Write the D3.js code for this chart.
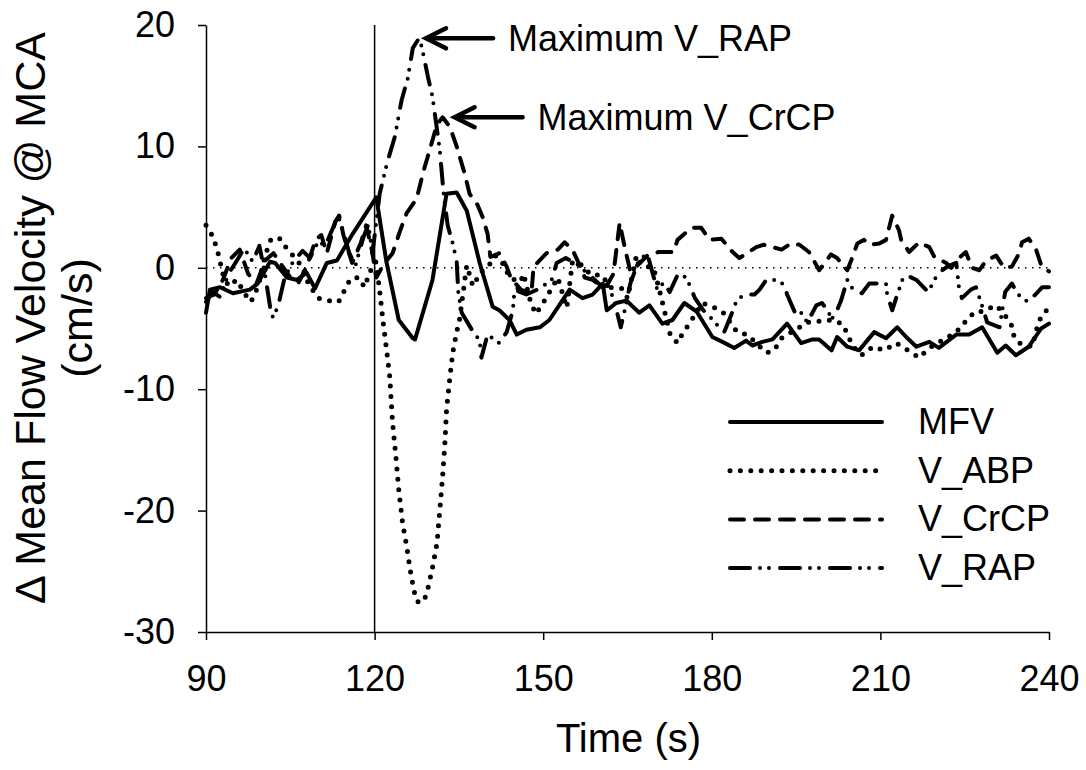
<!DOCTYPE html>
<html>
<head>
<meta charset="utf-8">
<script src="https://cdn.jsdelivr.net/npm/d3@7"></script>
<style>
  body { margin: 0; background: #fff; }
  text { font-family: "Liberation Sans", Arial, sans-serif; fill: #000; }
</style>
</head>
<body>
<div id="chart"></div>
<script>
// [time (s), delta velocity (cm/s)]
const mfv = [
  [90,-3.7],[90.7,-1.8],[92.5,-1.6],[94.8,-2.1],[97.8,-1.8],[99.2,-1.3],[101.4,0.5],[102.3,0.4],
  [104.4,-0.8],[106.2,-1.0],[107.9,-0.4],[109.4,-1.7],[111.5,0.4],[113.3,0.6],[116.1,2.8],[120.3,5.8],
  [122.1,0.5],[124.3,-4.3],[126.8,-5.8],[127.2,-5.9],[130.3,-1.0],[132.8,6.1],[134.6,6.2],[136.4,4.7],
  [138.7,0.4],[141,-3.2],[142.2,-3.5],[144,-4.3],[145.3,-5.5],[147,-5.1],[149.4,-4.9],[151.1,-4.3],
  [153.4,-2.7],[154.7,-1.8],[157,-2.5],[158.8,-2.2],[160.6,-1.3],[161.3,-3.5],[163,-2.9],[164.8,-2.7],
  [167.1,-3.7],[168.9,-3.1],[171.2,-4.6],[173,-4.3],[175.1,-2.9],[177.3,-3.6],[180.1,-5.7],[181.9,-6.1],
  [184,-6.6],[186.1,-6.0],[187.2,-6.4],[189,-6.1],[190.8,-5.9],[193.4,-4.6],[195.9,-6.2],[197.9,-5.9],
  [199.1,-5.9],[201.3,-6.8],[202.3,-5.7],[204.1,-6.5],[206.2,-6.8],[208.9,-5.3],[211,-5.8],[213,-4.9],
  [214.6,-5.7],[216.4,-6.5],[218.7,-6.1],[220.4,-6.6],[223.5,-5.5],[225.8,-5.5],[228.1,-4.9],[230.8,-7.0],
  [232.3,-6.4],[234.1,-7.2],[236.4,-6.5],[238.6,-5.0],[240,-4.6]
];

const vAbp = [
  [90,3.5],[91.2,2.6],[92,1.5],[93,-0.5],[94,-1.5],[95.5,-1.0],[97,-2.2],[98,-2.8],[99.3,-1.5],
  [100.5,1.0],[101.6,2.4],[103.2,2.4],[104.2,1.7],[105.5,1.0],[107.1,0.1],[108.3,-1.4],[110,-2.5],
  [111.7,-2.7],[113.6,-2.8],[114.7,-1.8],[115.7,-0.9],[117.2,-0.8],[118.2,-1.6],[119.2,-0.3],[120.2,0.5],
  [120.8,-1.5],[121.5,-4.4],[122.3,-7.4],[122.7,-9.0],[123.2,-12.8],[123.8,-15.6],[124.3,-18.3],[125,-21.1],
  [125.7,-22.9],[126.3,-24.8],[127,-26.6],[127.6,-27.5],[128.3,-27.6],[128.9,-27.3],[129.5,-26.4],
  [130.3,-24.7],[131.1,-22.7],[131.6,-20.0],[132.1,-17.2],[132.5,-14.5],[132.8,-11.7],[133.4,-9.0],
  [133.9,-7.0],[134.6,-5.3],[135.1,-4.3],[136.4,0.2],[137.5,-1.5],[139,-0.3],[140.2,0.1],[141.5,1.0],
  [143.3,0.1],[143.8,-0.7],[145,-1.0],[145.5,-1.7],[146.5,-0.5],[147.8,-2.9],[148.7,-3.8],[150.5,-2.5],
  [152.6,-0.8],[154.2,-3.3],[155.2,0.5],[157,0.2],[158.5,-0.6],[160.5,-0.6],[161.8,-1.6],[164,-1.7],
  [165,-2.5],[166.6,1.0],[167.5,0.2],[169.6,0],[170.5,-1.5],[172.6,-5.5],[173.9,-6.2],[174.8,-5.4],
  [176,-4.6],[178.3,-2.9],[180.1,-3.2],[181.9,-3.6],[184.5,-5.3],[186.3,-5.5],[189.7,-7.0],[191.1,-6.8],
  [192.4,-5.8],[195.6,-4.9],[197,-4.5],[201.2,-4.3],[203.2,-4.6],[204.1,-5.4],[205,-6.4],[206.6,-7.2],
  [207.7,-6.9],[208.6,-6.5],[210.7,-6.8],[212.8,-6.2],[214.2,-6.6],[216.9,-7.4],[218.7,-6.6],[223.5,-5.3],
  [225,-4.5],[226.8,-3.6],[228.1,-3.6],[230.6,-3.1],[232,-3.8],[233.3,-4.7],[233.8,-5.7],[234.7,-6.2],
  [237,-6.5],[238,-4.7],[238.7,-3.9],[240,-3.3]
];

const vCrcp = [
  [90,-2.5],[91.5,-2.2],[93,-1.0],[94.5,0.8],[96,1.5],[97.5,-0.5],[99,-1.3],[100.5,0.6],[102,1.2],
  [103.5,0.2],[105,-0.8],[106.5,-1.2],[108,0.2],[109.5,2.3],[110.5,2.7],[111.5,1.2],[113,3.8],[113.7,4.3],
  [114.5,2.6],[116,0.4],[117.5,2.0],[118.5,3.5],[119.5,1.5],[120.3,-0.8],[121.5,0.2],[123.2,1.2],
  [124.5,3.0],[125.7,4.5],[127.5,5.7],[128.6,7.8],[129.8,9.7],[131.1,11.8],[132.1,12.4],[133.4,11.6],
  [134.6,10.0],[136,7.8],[136.9,6.1],[138.3,5.2],[139.2,4.2],[140.1,2.8],[140.6,0.9],[142.2,1.2],
  [143.5,0.1],[144.2,-0.8],[146,-1.8],[147.9,-2.1],[148.3,0.1],[150.6,1.2],[152.6,1.5],[153.8,2.1],
  [155.2,1.5],[156.5,0.2],[157.4,-0.8],[158.8,-1.0],[160.6,-1.6],[161.4,-1.4],[162.5,-0.5],[163.6,3.7],
  [164.5,1.7],[165.5,-0.3],[167,0.3],[168.5,1.0],[170.5,1.3],[173.2,1.3],[173.9,2.3],[176.4,3.3],
  [178.1,3.3],[179.6,2.3],[181.7,2.4],[183.7,1.3],[184.9,0.8],[187.9,1.7],[189.3,1.9],[192.4,1.5],
  [194.1,2.0],[195.6,1.9],[197.3,1.3],[199.1,-0.2],[201.2,1.1],[202.3,0.8],[204.1,-0.2],[204.8,0.6],
  [205.9,2.0],[207.1,2.3],[208,1.9],[209.8,2.0],[211,2.3],[212.1,4.3],[213.3,3.1],[213.7,2.3],
  [215.1,1.3],[216.9,2.1],[218.7,1.7],[219.6,0.9],[221.7,0.4],[222.6,0],[223.5,0.6],[225.2,1.3],
  [226.3,0],[227.6,-0.2],[228.8,0.6],[230.6,1.0],[232,0],[233.4,0.1],[234.7,1.2],[235.2,2.1],
  [236.4,2.4],[237.7,1.5],[238.7,0.1],[240,-0.3]
];

const vRap = [
  [90,-2.8],[91.2,-2.0],[92.5,-2.4],[94,-0.5],[95.5,0.6],[96.8,1.6],[98.3,0.5],[99.5,1.8],[100.5,-0.5],
  [101.4,-3.2],[101.9,-4.1],[102.8,-3.2],[104,-0.8],[105.5,0.5],[107.2,1.4],[108.5,0.8],[110,2.2],
  [111.2,1.8],[112.6,3.3],[113.5,4.3],[114.3,3.2],[115.5,1.2],[116.6,0.2],[118,2.5],[118.9,3.6],
  [119.6,1.2],[120.1,3.0],[120.9,6.1],[122.2,8.6],[123.6,10.8],[124.8,13.8],[125.9,15.6],[126.8,18.1],
  [127.9,18.9],[128.4,18.2],[129.5,15.7],[130.3,14.1],[131.6,9.7],[132,7.6],[132.3,6.0],[133,3.5],
  [133.9,2.0],[134.6,0.6],[134.9,-2.1],[135.5,-3.7],[137.3,-5.1],[138.7,-6.0],[139,-7.4],[140.1,-5.5],
  [142.2,-6.2],[143.5,-5.3],[144.6,-3.5],[144.9,-1.8],[147,-2.2],[149.4,-1.7],[151.5,-1.0],[152.4,0.4],
  [154,0.8],[156,0.3],[158,-0.5],[160.6,-1.6],[161.4,-1.4],[162.5,-2.5],[163.8,-4.9],[164.5,-3.5],
  [165.5,-1.3],[166.9,0.5],[168.5,1.2],[169.5,-0.5],[170.3,-1.8],[171.5,-1.2],[172.5,-2.0],[174,-0.5],
  [175.5,-0.8],[177,-2.5],[178.5,-3.5],[180,-4.2],[181.5,-5.0],[182.2,-5.3],[183.7,-3.6],[184.4,-2.7],
  [185.8,-2.2],[187.6,-2.2],[188.5,-1.8],[189.7,-1.0],[191.5,-1.0],[192.9,-1.4],[193.4,-2.2],[195,-3.9],
  [195.9,-3.7],[197,-4.5],[198.6,-3.1],[199.6,-2.9],[200.8,-3.6],[201.2,-4.3],[202.1,-3.7],[203,-2.7],
  [204.1,-1.0],[205,-1.7],[206.7,-2.1],[208,-1.3],[211,-1.3],[211.2,-2.2],[212.1,-3.5],[213.3,-1.8],
  [213.9,-1.0],[214.6,-0.6],[216.4,-1.0],[218.5,-2.0],[219.6,-1.0],[220.4,-0.4],[221.9,0.1],[223.5,0.4],
  [224,-1.7],[224.5,-2.5],[226.1,-1.8],[227,-1.6],[228,-3.0],[229,-4.5],[231.2,-4.9],[232.2,-2.0],
  [233.4,-1.3],[234.5,-2.2],[236.2,-2.8],[237.6,-2.2],[238.8,-1.6],[240,-1.6]
];

const xTicks = [90, 120, 150, 180, 210, 240];
const yTicks = [-30, -20, -10, 0, 10, 20];
const seriesNames = ["MFV", "V_ABP", "V_CrCP", "V_RAP"];
const eventTime = 120;

const width = 1086, height = 770;
const svg = d3.select("#chart").append("svg")
  .attr("width", width)
  .attr("height", height);

const x = d3.scaleLinear().domain([90, 240]).range([206, 1049]);
const y = d3.scaleLinear().domain([-30, 20]).range([632, 25]);

// line styles: solid, dots, dashes, dash-dot-dot
const styles = {
  "MFV":    { dash: null,              w: 4 },
  "V_ABP":  { dash: "0,10.4",          w: 5 },
  "V_CrCP": { dash: "14,11",           w: 4 },
  "V_RAP":  { dash: "20,10,0,9,0,11",  w: 4 }
};
const seriesData = { "MFV": mfv, "V_ABP": vAbp, "V_CrCP": vCrcp, "V_RAP": vRap };

// axes (plain hyphen for negatives, like the original)
const yAxis = svg.append("g")
  .attr("transform", `translate(${x(90)},0)`)
  .call(d3.axisLeft(y).tickValues(yTicks).tickFormat(d => String(d))
    .tickSize(8).tickPadding(23).tickSizeOuter(0));
const xAxis = svg.append("g")
  .attr("transform", `translate(0,${y(-30)})`)
  .call(d3.axisBottom(x).tickValues(xTicks).tickFormat(d => String(d))
    .tickSize(8).tickPadding(25).tickSizeOuter(0));

[xAxis, yAxis].forEach(g => {
  g.select(".domain").attr("stroke", "#000").attr("stroke-width", 1.5);
  g.selectAll(".tick line").attr("stroke", "#000").attr("stroke-width", 1.5);
  g.selectAll(".tick text")
    .style("font-family", "'Liberation Sans', Arial, sans-serif")
    .style("font-size", "36px")
    .attr("fill", "#000");
});

// zero reference and event marker
svg.append("line")
  .attr("x1", x(90)).attr("x2", x(240))
  .attr("y1", y(0)).attr("y2", y(0))
  .attr("stroke", "#000").attr("stroke-width", 1.5)
  .attr("stroke-dasharray", "1.5,5.5");

svg.append("line")
  .attr("x1", x(eventTime)).attr("x2", x(eventTime))
  .attr("y1", y(20)).attr("y2", y(-30))
  .attr("stroke", "#000").attr("stroke-width", 1.5);

const line = d3.line().x(d => x(d[0])).y(d => y(d[1]));

seriesNames.forEach(name => {
  svg.append("path")
    .datum(seriesData[name])
    .attr("d", line)
    .attr("fill", "none")
    .attr("stroke", "#000")
    .attr("stroke-width", styles[name].w)
    .attr("stroke-linejoin", "round")
    .attr("stroke-linecap", "round")
    .attr("stroke-dasharray", styles[name].dash);
});

// annotations for peaks
function peakOf(data) {
  return data.reduce((a, b) => (b[1] > a[1] ? b : a));
}
const notes = [
  { label: "Maximum V_RAP",  peak: peakOf(vRap),  gap: 7,  len: 67 },
  { label: "Maximum V_CrCP", peak: peakOf(vCrcp), gap: 12, len: 68 }
];
notes.forEach(n => {
  const tx = x(n.peak[0]) + n.gap;
  const ty = y(n.peak[1]);
  const g = svg.append("g")
    .attr("stroke", "#000").attr("stroke-width", 4.5)
    .attr("fill", "none").attr("stroke-linecap", "round");
  g.append("line").attr("x1", tx + 2).attr("y1", ty).attr("x2", tx + n.len).attr("y2", ty);
  g.append("polyline")
    .attr("points", `${tx + 20},${ty - 10} ${tx},${ty} ${tx + 20},${ty + 10}`)
    .attr("stroke-linejoin", "miter");
  svg.append("text")
    .attr("x", tx + n.len + 15)
    .attr("y", ty + 13)
    .style("font-size", "36px")
    .text(n.label);
});

// legend
const legend = svg.append("g").attr("transform", "translate(730,422)");
seriesNames.forEach((name, i) => {
  const row = legend.append("g").attr("transform", `translate(0,${i * 48.7})`);
  row.append("line")
    .attr("x1", 0).attr("x2", 152)
    .attr("stroke", "#000").attr("stroke-width", styles[name].w)
    .attr("stroke-linecap", "round")
    .attr("stroke-dasharray", styles[name].dash);
  row.append("text")
    .attr("x", 188)
    .attr("y", 12)
    .style("font-size", "36px")
    .text(name);
});

// axis titles
svg.append("text")
  .attr("x", (x(90) + x(240)) / 2 + 1)
  .attr("y", 752)
  .attr("text-anchor", "middle")
  .style("font-size", "40px")
  .text("Time (s)");

const yTitle = svg.append("g").attr("transform", "translate(0,318) rotate(-90)");
yTitle.append("text")
  .attr("x", 0).attr("y", 45)
  .attr("text-anchor", "middle")
  .style("font-size", "43px")
  .text("Δ Mean Flow Velocity @ MCA");
yTitle.append("text")
  .attr("x", 0).attr("y", 92)
  .attr("text-anchor", "middle")
  .style("font-size", "43px")
  .text("(cm/s)");
</script>
</body>
</html>
